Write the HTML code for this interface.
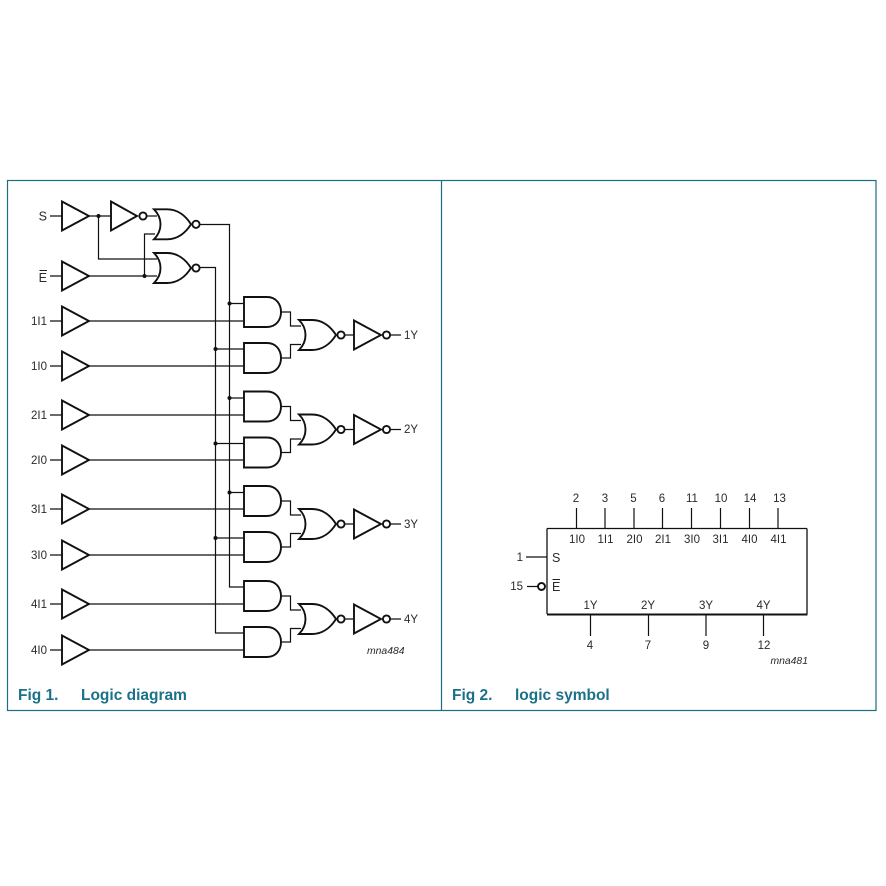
<!DOCTYPE html>
<html><head><meta charset="utf-8"><style>
html,body{margin:0;padding:0;background:#fff}
svg{display:block}
text{font-family:"Liberation Sans",sans-serif;font-size:11.5px;fill:#2a2a2a}
.m{text-anchor:middle}.e{text-anchor:end}
.c{font-size:15.5px;font-weight:bold;fill:#1b7288}
.i{font-size:10.4px;font-style:italic}
.l{font-size:12.5px}
.w{fill:none;stroke:#111;stroke-width:1.2}
.g{fill:#fff;stroke:#111;stroke-width:1.9;stroke-linejoin:miter}
</style></head><body>
<svg width="886" height="886" viewBox="0 0 886 886" xmlns="http://www.w3.org/2000/svg">
<defs>
<path id="b" class="g" d="M62 -14.5L89 0L62 14.5Z"/>
<g id="nor"><path class="g" d="M0 -15H13C24 -15 32 -8 37 0C32 8 24 15 13 15H0C5 10 6.500 4 6.500 0C6.500 -4 5 -10 0 -15Z"/><circle class="g" cx="42" cy="0" r="3.600"/></g>
<path id="and" class="g" d="M244 0H267C276 0 281 7 281 15C281 23 276 30 267 30H244Z"/>
<g id="grp">
<use href="#and" y="0"/><use href="#and" y="46"/>
<path class="w" d="M281 15H290.500V29H301M281 61H290.500V47.500H301"/>
<use href="#nor" x="299" y="38"/>
<path class="w" d="M345 38H354M390.500 38H401"/>
<path class="g" d="M354 23.500L381 38L354 52.500Z"/>
<circle class="g" cx="386.500" cy="38" r="3.600"/>
</g>
</defs>
<rect x="7.500" y="180.500" width="868.500" height="530" fill="none" stroke="#1b6f82" stroke-width="1.200"/>
<path d="M441.500 180.500V710.500" stroke="#1b6f82" stroke-width="1.200"/>

<path class="w" d="M89 216H111M98.500 216V259H157M147 216H157M89 276H157M144.500 276V234H155M200 224.500H229.500V587H244M200 267.500H215.500V633H244"/>
<path class="w" d="M50 216H62M50 276H62M50 321H62M50 366H62M50 415H62M50 460H62M50 509H62M50 555H62M50 604H62M50 650H62"/>
<path class="w" d="M89 321H244M89 366H244M89 415H244M89 460H244M89 509H244M89 555H244M89 604H244M89 650H244"/>
<path class="w" d="M229.500 303.500H244M215.500 349H244M229.500 398H244M215.500 443.500H244M229.500 492.500H244M215.500 538H244"/>
<g fill="#111"><circle cx="98.500" cy="216" r="2"/><circle cx="144.500" cy="276" r="2"/><circle cx="229.500" cy="303.500" r="2"/><circle cx="215.500" cy="349" r="2"/><circle cx="229.500" cy="398" r="2"/><circle cx="215.500" cy="443.500" r="2"/><circle cx="229.500" cy="492.500" r="2"/><circle cx="215.500" cy="538" r="2"/></g>

<use href="#b" y="216"/><use href="#b" y="276"/><use href="#b" y="321"/><use href="#b" y="366"/><use href="#b" y="415"/><use href="#b" y="460"/><use href="#b" y="509"/><use href="#b" y="555"/><use href="#b" y="604"/><use href="#b" y="650"/>
<path class="g" d="M111 201.500L137 216L111 230.500Z"/><circle class="g" cx="143" cy="216" r="3.600"/>
<use href="#nor" x="154" y="224.300"/><use href="#nor" x="154" y="268"/>
<use href="#grp" y="297"/><use href="#grp" y="391.500"/><use href="#grp" y="486"/><use href="#grp" y="581"/>

<text x="47" y="220.500" class="e l">S</text>
<text x="47" y="282" class="e l">E</text><path d="M39.500 270.500H47" stroke="#222" stroke-width="1"/>
<text x="47" y="325" class="e">1I1</text><text x="47" y="370" class="e">1I0</text>
<text x="47" y="419" class="e">2I1</text><text x="47" y="464" class="e">2I0</text>
<text x="47" y="513" class="e">3I1</text><text x="47" y="559" class="e">3I0</text>
<text x="47" y="608" class="e">4I1</text><text x="47" y="654" class="e">4I0</text>
<text x="404" y="339">1Y</text><text x="404" y="433">2Y</text><text x="404" y="528">3Y</text><text x="404" y="623">4Y</text>
<text x="367" y="654" class="i">mna484</text>
<text x="18" y="700" class="c">Fig 1.</text><text x="81" y="700" class="c">Logic diagram</text>
<text x="452" y="700" class="c">Fig 2.</text><text x="515" y="700" class="c">logic symbol</text>

<path d="M547 528.500H807M547 528.500V614M807 528.500V614" fill="none" stroke="#111" stroke-width="1.300"/>
<path d="M547 614.500H807.500" stroke="#111" stroke-width="2"/>
<path class="w" d="M576.500 508V528M605 508V528M634 508V528M662.500 508V528M691.500 508V528M720.500 508V528M749.500 508V528M778 508V528M526 557H547M527 586.500H538M590.500 614V636M648.500 614V636M706 614V636M763.500 614V636"/>
<circle class="g" cx="541.500" cy="586.500" r="3.500"/>
<g class="m">
<text class="m" x="576" y="502">2</text><text class="m" x="605" y="502">3</text><text class="m" x="633.500" y="502">5</text><text class="m" x="662" y="502">6</text><text class="m" x="692" y="502">11</text><text class="m" x="721" y="502">10</text><text class="m" x="750" y="502">14</text><text class="m" x="779.500" y="502">13</text>
<text class="m" x="577" y="543">1I0</text><text class="m" x="605.500" y="543">1I1</text><text class="m" x="634.500" y="543">2I0</text><text class="m" x="663" y="543">2I1</text><text class="m" x="692" y="543">3I0</text><text class="m" x="720.500" y="543">3I1</text><text class="m" x="749.500" y="543">4I0</text><text class="m" x="778.500" y="543">4I1</text>
<text class="m" x="590.500" y="609">1Y</text><text class="m" x="648" y="609">2Y</text><text class="m" x="706" y="609">3Y</text><text class="m" x="763.500" y="609">4Y</text>
<text class="m" x="590" y="649">4</text><text class="m" x="648" y="649">7</text><text class="m" x="706" y="649">9</text><text class="m" x="764" y="649">12</text>
</g>
<text x="523" y="561" class="e">1</text><text x="523" y="590" class="e">15</text>
<text x="552" y="562" class="l">S</text><text x="552" y="591" class="l">E</text><path d="M552.500 579.500H560" stroke="#222" stroke-width="1"/>
<text x="808" y="664" class="i e">mna481</text>
</svg>
</body></html>
